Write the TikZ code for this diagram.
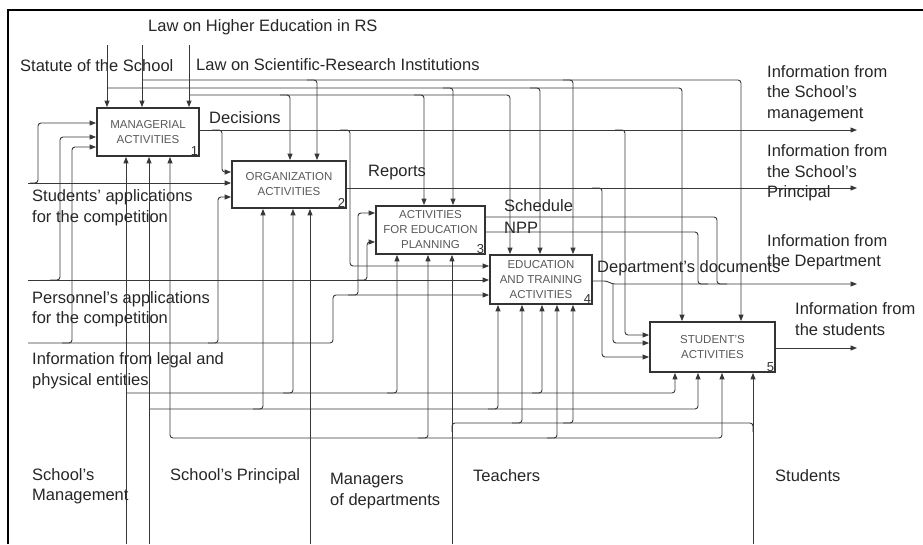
\documentclass[tikz,border=0pt]{standalone}
\usepackage{fontspec}
\setmainfont{Liberation Sans}
\usetikzlibrary{arrows.meta}
\begin{document}
\begin{tikzpicture}[x=1pt,y=-1pt,
  ln/.style={draw=black!78, line width=0.9pt, rounded corners=3pt},
  arr/.style={ln, -{Triangle[length=6.5pt,width=5pt]}},
  darr/.style={ln, {Triangle[length=6.5pt,width=5pt]}-{Triangle[length=6.5pt,width=5pt]}},
  box/.style={draw=black!80, line width=1.8pt, fill=white, inner sep=0pt, align=center,
    font=\fontsize{11.5}{15}\selectfont, text=black!65},
  lbl/.style={font=\fontsize{16.5}{20.5}\selectfont, text=black!85, anchor=west, align=left, inner sep=0pt},
  num/.style={font=\fontsize{13}{13}\selectfont, text=black!80, inner sep=1.5pt, anchor=south east}
]
\useasboundingbox (0,0) rectangle (923,544);
\draw[line width=1.2pt] (8,544) -- (8,10) -- (923,10);

% boxes
\node[box, minimum width=102pt, minimum height=48pt] (b1) at (148,132) {MANAGERIAL\\ACTIVITIES};
\node[box, minimum width=114pt, minimum height=47pt] (b2) at (289,184.5) {ORGANIZATION\\ACTIVITIES};
\node[box, minimum width=109pt, minimum height=48pt] (b3) at (430.5,230) {ACTIVITIES\\FOR EDUCATION\\PLANNING};
\node[box, minimum width=102pt, minimum height=49pt] (b4) at (541,279.5) {EDUCATION\\AND TRAINING\\ACTIVITIES};
\node[box, minimum width=125pt, minimum height=50pt] (b5) at (712.5,347) {STUDENT'S\\ACTIVITIES};
\node[num] (n1) at (b1.south east) {1};
\node[num] (n2) at (b2.south east) {2};
\node[num] (n3) at (b3.south east) {3};
\node[num] (n4) at (b4.south east) {4};
\node[num] (n5) at (b5.south east) {5};

% top labels
\node[lbl] (lhe) at (148,27) {Law on Higher Education in RS};
\node[lbl] (sts) at (20,66) {Statute of the School};
\node[lbl] (lsr) at (196,65) {Law on Scientific-Research Institutions};

% Statute of the School
\draw[arr] (107,45) -- (107,0 |- b1.north);
\draw[arr] (107,88) -- (682,88) -- (682,0 |- b5.north);
\draw[arr] (443,88) -- (453,88) -- (453,0 |- b3.north);
\draw[arr] (530,88) -- (540,88) -- (540,0 |- b4.north);
% Law on Higher Education
\draw[arr] (142,45) -- (142,0 |- b1.north);
\draw[arr] (142,80) -- (741,80) -- (741,0 |- b5.north);
\draw[arr] (307,80) -- (317,80) -- (317,0 |- b2.north);
\draw[arr] (563,80) -- (573,80) -- (573,0 |- b4.north);
% Law on Scientific-Research Institutions
\draw[arr] (189,45) -- (189,0 |- b1.north);
\draw[arr] (189,95) -- (510,95) -- (510,0 |- b4.north);
\draw[arr] (280,95) -- (290,95) -- (290,0 |- b2.north);
\draw[arr] (414,95) -- (424,95) -- (424,0 |- b3.north);

% inputs
\node[lbl] (sap) at (32,207.5) {Students' applications\\for the competition};
\node[lbl] (pap) at (32,309) {Personnel's applications\\for the competition};
\node[lbl] (inf) at (32,370.5) {Information from legal and\\physical entities};

\draw[arr] (28,183) -- (b2.west |- 0,183);
\draw[arr] (30,183) -- (38,183) -- (38,123) -- (b1.west |- 0,123);

\draw[arr] (28,280) -- (b4.west |- 0,280);
\draw[arr] (50,280) -- (60,280) -- (60,137) -- (b1.west |- 0,137);
\draw[arr] (357,280) -- (367,280) -- (367,242) -- (b3.west |- 0,242);

\draw[arr] (28,343) -- (333,343) -- (333,295) -- (b4.west |- 0,295);
\draw[arr] (62,343) -- (72,343) -- (72,147) -- (b1.west |- 0,147);
\draw[arr] (208,343) -- (218,343) -- (218,197) -- (b2.west |- 0,197);
\draw[arr] (348,295) -- (358,295) -- (358,213) -- (b3.west |- 0,213);

% outputs
\node[lbl] (dec) at (209,118) {Decisions};
\draw[arr] (b1.east |- 0,130) -- (857,130);
\draw[arr] (212,130) -- (222,130) -- (222,172) -- (b2.west |- 0,172);
\draw[arr] (340,130) -- (350,130) -- (350,266) -- (b4.west |- 0,266);
\draw[arr] (615,130) -- (625,130) -- (625,335) -- (b5.west |- 0,335);

\node[lbl] (rep) at (368,173) {Reports};
\draw[arr] (b2.east |- 0,188) -- (857,188);
\draw[arr] (592,188) -- (602,188) -- (602,357) -- (b5.west |- 0,357);

\node[lbl] (sch) at (504,206) {Schedule};
\node[lbl] (npp) at (504,228) {NPP};
\draw[ln] (b3.east |- 0,217) -- (717,217) -- (717,284) -- (727,284);
\draw[ln] (b3.east |- 0,232) -- (698,232) -- (698,284) -- (708,284);

\node[lbl] (dd) at (597,268) {Department's documents};
\draw[arr] (b4.east |- 0,281) -- (607,281) -- (612,284) -- (857,284);
\draw[arr] (613,284) -- (613,343) -- (b5.west |- 0,343);

\draw[arr] (b5.east |- 0,348) -- (857,348);

\node[lbl] (o1) at (767,93.5) {Information from\\the School's\\management};
\node[lbl] (o2) at (767,173) {Information from\\the School's\\Principal};
\node[lbl] (o3) at (767,252) {Information from\\the Department};
\node[lbl] (o4) at (795,319) {Information from\\the students};

% mechanisms
\node[lbl] (msm) at (32,486) {School's\\Management};
\node[lbl] (msp) at (170,476) {School's Principal};
\node[lbl] (mmd) at (330,491) {Managers\\of departments};
\node[lbl] (mt) at (473,476) {Teachers};
\node[lbl] (mst) at (775,476) {Students};

% School's Management
\draw[arr] (126,544) -- (126,0 |- b1.south);
\draw[arr] (126,393) -- (675,393) -- (675,0 |- b5.south);
\draw[arr] (283,393) -- (293,393) -- (293,0 |- b2.south);
\draw[arr] (387,393) -- (397,393) -- (397,0 |- b3.south);
\draw[arr] (532,393) -- (542,393) -- (542,0 |- b4.south);
% School's Principal
\draw[arr] (149,544) -- (149,0 |- b1.south);
\draw[arr] (149,409) -- (698,409) -- (698,0 |- b5.south);
\draw[arr] (253,409) -- (263,409) -- (263,0 |- b2.south);
\draw[arr] (488,409) -- (498,409) -- (498,0 |- b4.south);
% Managers of departments
\draw[arr] (310,544) -- (310,0 |- b2.south);
\draw[darr] (170,0 |- b1.south) -- (170,438) -- (722,438) -- (722,0 |- b5.south);
\draw[arr] (418,438) -- (428,438) -- (428,0 |- b3.south);
\draw[arr] (547,438) -- (557,438) -- (557,0 |- b4.south);
% Teachers
\draw[arr] (452,544) -- (452,0 |- b3.south);
\draw[ln] (452,432) -- (452,423) -- (753,423) -- (753,432);
\draw[arr] (512,423) -- (522,423) -- (522,0 |- b4.south);
\draw[arr] (563,423) -- (573,423) -- (573,0 |- b4.south);
% Students
\draw[arr] (753,544) -- (753,0 |- b5.south);
\end{tikzpicture}
\end{document}
